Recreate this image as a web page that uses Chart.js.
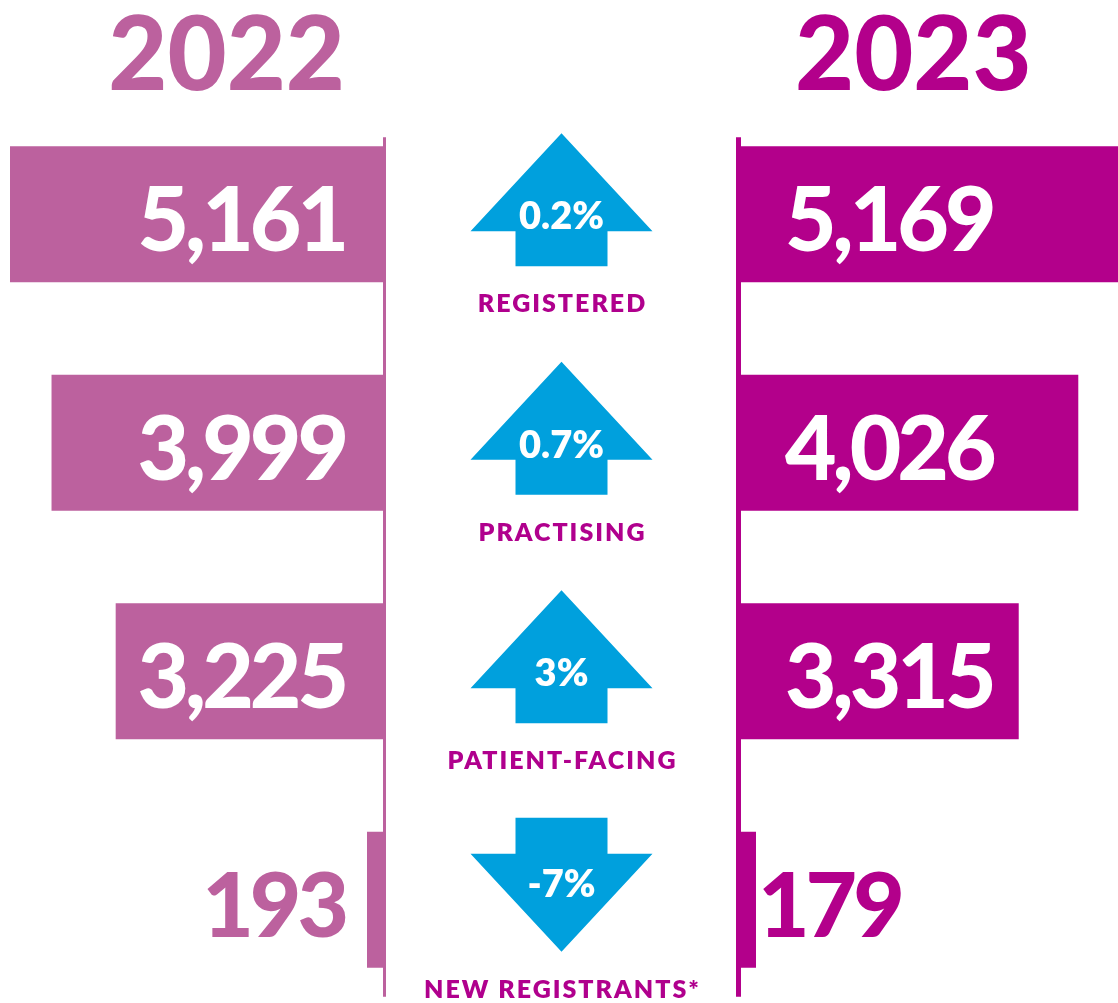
<!DOCTYPE html>
<html>
<head>
<meta charset="utf-8">
<script src="https://cdn.jsdelivr.net/npm/chart.js@4.4.1/dist/chart.umd.min.js"></script>
<style>
  html, body { margin: 0; padding: 0; background: #fff; overflow: hidden; }
  #wrap { position: relative; width: 1118px; height: 1003px; overflow: hidden; }
  #wrap canvas { position: absolute; top: 0; }
  #left { left: 0; }
  #mid { left: 387px; }
  #right { left: 736px; }
</style>
</head>
<body>
<div id="wrap">
  <canvas id="left" width="387" height="1014"></canvas>
  <canvas id="mid" width="349" height="1014"></canvas>
  <canvas id="right" width="382" height="1014"></canvas>
</div>
<script>
const categories = ['REGISTERED', 'PRACTISING', 'PATIENT-FACING', 'NEW REGISTRANTS*'];
const years = ['2022', '2023'];
const values2022 = [5161, 3999, 3225, 193];
const values2023 = [5169, 4026, 3315, 179];
const changeLabels = ['0.2%', '0.7%', '3%', '-7%'];

const color2022 = '#BC619E';
const color2023 = '#B3008B';
const arrowColor = '#00A0DD';
const labelColor = '#B0008D';

// shared value axis; the longest bars run off the edge like in the original
const AXIS_MAX = 4500;

const valueFont = '900 89px Lato';
const titleFont = '900 102px Lato';

// numbers, year title and the vertical divider for one side
function sidePlugin(side, year, color) {
  return {
    id: 'side' + side,
    afterDatasetsDraw(chart) {
      const { ctx, chartArea } = chart;
      const meta = chart.getDatasetMeta(0);
      const data = chart.data.datasets[0].data;
      const yScale = chart.scales.y;

      ctx.save();
      ctx.font = valueFont;
      ctx.letterSpacing = '-4px';
      ctx.textBaseline = 'alphabetic';
      meta.data.forEach((bar, i) => {
        const text = data[i].toLocaleString('en-US');
        const w = ctx.measureText(text).width;
        const y = bar.y + 37;
        if (side === 'left') {
          const end = Math.max(bar.x, chartArea.left);
          const inside = (bar.base - end) > w + 44;
          ctx.textAlign = 'right';
          ctx.fillStyle = inside ? '#fff' : color;
          ctx.fillText(text, bar.base - 38, y);
        } else {
          const end = Math.min(bar.x, chartArea.right);
          const inside = (end - bar.base) > w + 50;
          ctx.textAlign = 'left';
          ctx.fillStyle = inside ? '#fff' : color;
          ctx.fillText(text, inside ? bar.base + 44 : end + 2, y);
        }
      });
      ctx.letterSpacing = '0px';

      // year heading
      ctx.font = titleFont;
      ctx.fillStyle = color;
      if (side === 'left') {
        ctx.textAlign = 'right';
        ctx.fillText(year, chartArea.right - 38, 90);
      } else {
        ctx.textAlign = 'left';
        ctx.fillText(year, chartArea.left + 54, 90);
      }

      // divider line
      const top = yScale.getPixelForValue(0) - 77;
      const bottom = yScale.getPixelForValue(categories.length - 1) + 97;
      if (side === 'left') {
        ctx.fillRect(chartArea.right, top, 3, bottom - top);
      } else {
        ctx.fillRect(chartArea.left - 5, top, 5, bottom - top);
      }
      ctx.restore();
    }
  };
}

// arrows with percentage change and category names
const arrowPlugin = {
  id: 'arrows',
  afterDraw(chart) {
    const { ctx, chartArea } = chart;
    const yScale = chart.scales.y;
    const cx = (chartArea.left + chartArea.right) / 2;
    ctx.save();
    categories.forEach((cat, i) => {
      const yc = yScale.getPixelForValue(i);
      const up = values2023[i] >= values2022[i];
      const cy = yc - 15;
      ctx.fillStyle = arrowColor;
      ctx.beginPath();
      if (up) {
        ctx.moveTo(cx, cy - 66);
        ctx.lineTo(cx + 91, cy + 32);
        ctx.lineTo(cx + 46, cy + 32);
        ctx.lineTo(cx + 46, cy + 67);
        ctx.lineTo(cx - 46, cy + 67);
        ctx.lineTo(cx - 46, cy + 32);
        ctx.lineTo(cx - 91, cy + 32);
      } else {
        ctx.moveTo(cx - 46, cy - 67);
        ctx.lineTo(cx + 46, cy - 67);
        ctx.lineTo(cx + 46, cy - 31);
        ctx.lineTo(cx + 91, cy - 31);
        ctx.lineTo(cx, cy + 67);
        ctx.lineTo(cx - 91, cy - 31);
        ctx.lineTo(cx - 46, cy - 31);
      }
      ctx.closePath();
      ctx.fill();

      ctx.fillStyle = '#fff';
      ctx.font = '800 38px Lato';
      ctx.textAlign = 'center';
      ctx.textBaseline = 'alphabetic';
      ctx.fillText(changeLabels[i], cx, up ? cy + 30 : cy + 12);

      ctx.fillStyle = labelColor;
      ctx.font = '800 25px Lato';
      ctx.letterSpacing = '2px';
      ctx.fillText(cat, cx + 1, yc + 98);
      ctx.letterSpacing = '0px';
    });
    ctx.restore();
  }
};

function barChart(id, values, year, color, side) {
  return new Chart(document.getElementById(id), {
    type: 'bar',
    data: {
      labels: categories,
      datasets: [{
        label: year,
        data: values,
        backgroundColor: color,
        borderWidth: 0,
        barPercentage: 0.595,
        categoryPercentage: 1
      }]
    },
    options: {
      indexAxis: 'y',
      responsive: false,
      animation: false,
      layout: {
        padding: side === 'left'
          ? { top: 100, bottom: 0, left: 10, right: 4 }
          : { top: 100, bottom: 0, left: 5, right: 0 }
      },
      scales: {
        x: { display: false, min: 0, max: AXIS_MAX, reverse: side === 'left' },
        y: { display: false }
      },
      plugins: { legend: { display: false }, tooltip: { enabled: false } }
    },
    plugins: [sidePlugin(side, year, color)]
  });
}

barChart('left', values2022, years[0], color2022, 'left');
barChart('right', values2023, years[1], color2023, 'right');

new Chart(document.getElementById('mid'), {
  type: 'bar',
  data: { labels: categories, datasets: [] },
  options: {
    indexAxis: 'y',
    responsive: false,
    animation: false,
    layout: { padding: { top: 100, bottom: 0, left: 0, right: 0 } },
    scales: {
      x: { display: false, min: 0, max: 1 },
      y: { display: false }
    },
    plugins: { legend: { display: false }, tooltip: { enabled: false } }
  },
  plugins: [arrowPlugin]
});
</script>
</body>
</html>
